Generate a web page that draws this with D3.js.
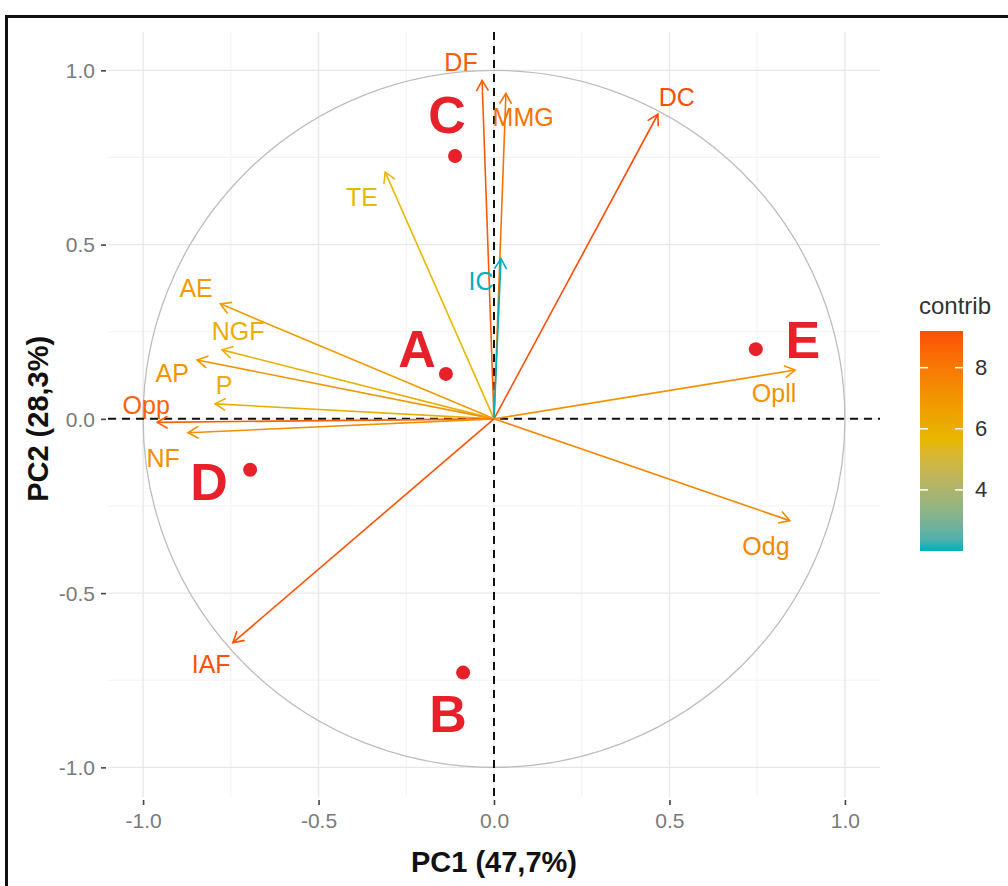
<!DOCTYPE html>
<html>
<head>
<meta charset="utf-8">
<script src="https://cdn.jsdelivr.net/npm/d3@7"></script>
<style>
  html, body { margin: 0; padding: 0; background: #fff; }
  svg { display: block; font-family: "Liberation Sans", Arial, sans-serif; }
</style>
</head>
<body>
<svg id="chart" width="1008" height="886"></svg>
<script>
// ---- Data ----
const varNames   = ["DF", "MMG", "DC", "TE", "IC", "AE", "NGF", "AP", "P", "Opp", "NF", "IAF", "Opll", "Odg"];
const varPC1     = [-0.034, 0.034, 0.467, -0.31, 0.02, -0.78, -0.775, -0.846, -0.795, -0.96, -0.872, -0.744, 0.858, 0.843];
const varPC2     = [0.971, 0.934, 0.874, 0.708, 0.46, 0.33, 0.198, 0.169, 0.043, -0.01, -0.04, -0.642, 0.14, -0.292];
const varContrib = [8.9, 8.2, 9.2, 5.6, 2.0, 6.7, 6.0, 7.0, 6.0, 8.7, 7.2, 9.1, 7.1, 7.5];
const varLabelX  = [-0.094, 0.083, 0.521, -0.376, -0.037, -0.849, -0.729, -0.917, -0.769, -0.991, -0.943, -0.806, 0.798, 0.775];
const varLabelY  = [1.023, 0.865, 0.923, 0.636, 0.395, 0.375, 0.252, 0.132, 0.097, 0.04, -0.112, -0.702, 0.074, -0.364];

const indNames  = ["A", "B", "C", "D", "E"];
const indPC1    = [-0.137, -0.088, -0.111, -0.695, 0.746];
const indPC2    = [0.129, -0.728, 0.754, -0.146, 0.2];
const indLabelX = [-0.219, -0.131, -0.134, -0.812, 0.88];
const indLabelY = [0.2, -0.848, 0.871, -0.181, 0.226];

const xTicks = [-1.0, -0.5, 0.0, 0.5, 1.0];
const yTicks = [-1.0, -0.5, 0.0, 0.5, 1.0];
const minorTicks = [-0.75, -0.25, 0.25, 0.75];
const legendTicks = [4, 6, 8];
const gradientCols = ["#00AFBB", "#E7B800", "#FC4E07"];
const xTitle = "PC1 (47,7%)";
const yTitle = "PC2 (28,3%)";
const legendTitle = "contrib";

// ---- Layout ----
const svg = d3.select("#chart");
const P = { left: 108, right: 880, top: 32, bottom: 797 };
const x = d3.scaleLinear().domain([-1.1, 1.1]).range([P.left, P.right]);
const y = d3.scaleLinear().domain([-1.085, 1.11]).range([P.bottom, P.top]);

const cMin = d3.min(varContrib), cMax = d3.max(varContrib);
const color = d3.scaleLinear().domain([cMin, (cMin + cMax) / 2, cMax]).range(gradientCols)
  .interpolate(d3.interpolateLab);
const fmt = d => d.toFixed(1);

// grid
const g = svg.append("g");
g.selectAll(".minx").data(minorTicks).join("line")
  .attr("x1", d => x(d)).attr("x2", d => x(d)).attr("y1", P.top).attr("y2", P.bottom)
  .attr("stroke", "#f3f3f3").attr("stroke-width", 1.2);
g.selectAll(".miny").data(minorTicks).join("line")
  .attr("y1", d => y(d)).attr("y2", d => y(d)).attr("x1", P.left).attr("x2", P.right)
  .attr("stroke", "#f3f3f3").attr("stroke-width", 1.2);
g.selectAll(".majx").data(xTicks).join("line")
  .attr("x1", d => x(d)).attr("x2", d => x(d)).attr("y1", P.top).attr("y2", P.bottom)
  .attr("stroke", "#e8e8e8").attr("stroke-width", 1.4);
g.selectAll(".majy").data(yTicks).join("line")
  .attr("y1", d => y(d)).attr("y2", d => y(d)).attr("x1", P.left).attr("x2", P.right)
  .attr("stroke", "#e8e8e8").attr("stroke-width", 1.4);

// axes
const xAxis = svg.append("g").attr("transform", `translate(0,${P.bottom + 3})`)
  .call(d3.axisBottom(x).tickValues(xTicks).tickFormat(fmt).tickSize(5).tickPadding(8));
const yAxis = svg.append("g").attr("transform", `translate(${P.left - 2},0)`)
  .call(d3.axisLeft(y).tickValues(yTicks).tickFormat(fmt).tickSize(5).tickPadding(6));
[xAxis, yAxis].forEach(a => {
  a.select(".domain").remove();
  a.selectAll(".tick line").attr("stroke", "#444").attr("stroke-width", 1.6);
  a.selectAll(".tick text").attr("fill", "#7a7a7a").style("font-size", "21px")
    .style("font-family", "'Liberation Sans', Arial, sans-serif");
});
yAxis.selectAll(".tick text").attr("dy", "0.35em");

// circle of correlations
svg.append("ellipse")
  .attr("cx", x(0)).attr("cy", y(0))
  .attr("rx", x(1) - x(0)).attr("ry", y(0) - y(1))
  .attr("fill", "none").attr("stroke", "#bdbdbd").attr("stroke-width", 1.3);

// dashed reference lines
svg.append("line").attr("x1", P.left).attr("x2", P.right).attr("y1", y(0)).attr("y2", y(0))
  .attr("stroke", "#111").attr("stroke-width", 2).attr("stroke-dasharray", "8,6");
svg.append("line").attr("x1", x(0)).attr("x2", x(0)).attr("y1", P.top).attr("y2", P.bottom)
  .attr("stroke", "#111").attr("stroke-width", 2).attr("stroke-dasharray", "8,6");

// variable arrows
const vars = varNames.map((n, i) => ({ n, px: varPC1[i], py: varPC2[i], c: varContrib[i], lx: varLabelX[i], ly: varLabelY[i] }));
const arrows = svg.append("g");
vars.forEach(v => {
  const x0 = x(0), y0 = y(0), x1 = x(v.px), y1 = y(v.py);
  const col = color(v.c);
  arrows.append("line").attr("x1", x0).attr("y1", y0).attr("x2", x1).attr("y2", y1)
    .attr("stroke", col).attr("stroke-width", 1.6);
  const ang = Math.atan2(y1 - y0, x1 - x0);
  const L = 12, a = Math.PI / 6;
  const p1 = [x1 - L * Math.cos(ang - a), y1 - L * Math.sin(ang - a)];
  const p2 = [x1 - L * Math.cos(ang + a), y1 - L * Math.sin(ang + a)];
  arrows.append("path").attr("d", `M${p1[0]},${p1[1]}L${x1},${y1}L${p2[0]},${p2[1]}`)
    .attr("fill", "none").attr("stroke", col).attr("stroke-width", 1.6);
});
svg.append("g").selectAll("text").data(vars).join("text")
  .attr("x", d => x(d.lx)).attr("y", d => y(d.ly))
  .attr("text-anchor", "middle").attr("dominant-baseline", "central")
  .attr("fill", d => color(d.c)).style("font-size", "25px")
  .text(d => d.n);

// individuals
const inds = indNames.map((n, i) => ({ n, px: indPC1[i], py: indPC2[i], lx: indLabelX[i], ly: indLabelY[i] }));
svg.append("g").selectAll("circle").data(inds).join("circle")
  .attr("cx", d => x(d.px)).attr("cy", d => y(d.py)).attr("r", 7)
  .attr("fill", "#e8202a");
svg.append("g").selectAll("text").data(inds).join("text")
  .attr("x", d => x(d.lx)).attr("y", d => y(d.ly))
  .attr("text-anchor", "middle").attr("dominant-baseline", "central")
  .attr("fill", "#e8202a").style("font-size", "52px").style("font-weight", "bold")
  .text(d => d.n);

// axis titles
svg.append("text").attr("x", x(0)).attr("y", 862)
  .attr("text-anchor", "middle").attr("dominant-baseline", "central")
  .style("font-size", "29px").style("font-weight", "bold").attr("fill", "#111")
  .text(xTitle);
svg.append("text").attr("transform", `translate(38,${y(0)}) rotate(-90)`)
  .attr("text-anchor", "middle").attr("dominant-baseline", "central")
  .style("font-size", "29px").style("font-weight", "bold").attr("fill", "#111")
  .text(yTitle);

// legend
const L = { x: 920, w: 43, top: 331, bottom: 551 };
const ly = d3.scaleLinear().domain([cMin, cMax]).range([L.bottom, L.top]);
const defs = svg.append("defs");
const grad = defs.append("linearGradient").attr("id", "cgrad")
  .attr("x1", 0).attr("y1", 1).attr("x2", 0).attr("y2", 0);
d3.range(0, 1.0001, 0.05).forEach(t => {
  grad.append("stop").attr("offset", t).attr("stop-color", color(cMin + t * (cMax - cMin)));
});
svg.append("rect").attr("x", L.x).attr("y", L.top).attr("width", L.w).attr("height", L.bottom - L.top)
  .attr("fill", "url(#cgrad)");
const lg = svg.append("g");
lg.selectAll(".tl").data(legendTicks).join("line")
  .attr("x1", L.x).attr("x2", L.x + 8).attr("y1", d => ly(d)).attr("y2", d => ly(d))
  .attr("stroke", "#fff").attr("stroke-width", 1.5);
lg.selectAll(".tr").data(legendTicks).join("line")
  .attr("x1", L.x + L.w - 8).attr("x2", L.x + L.w).attr("y1", d => ly(d)).attr("y2", d => ly(d))
  .attr("stroke", "#fff").attr("stroke-width", 1.5);
lg.selectAll("text").data(legendTicks).join("text")
  .attr("x", L.x + L.w + 12).attr("y", d => ly(d))
  .attr("dominant-baseline", "central").attr("fill", "#333").style("font-size", "22px")
  .text(d => d);
svg.append("text").attr("x", 919).attr("y", 305).attr("dominant-baseline", "central")
  .attr("fill", "#333").style("font-size", "24px").text(legendTitle);

// frame (left and top black border)
svg.append("path").attr("d", "M6.5,886V16.5H1008")
  .attr("fill", "none").attr("stroke", "#111").attr("stroke-width", 3);
</script>
</body>
</html>
